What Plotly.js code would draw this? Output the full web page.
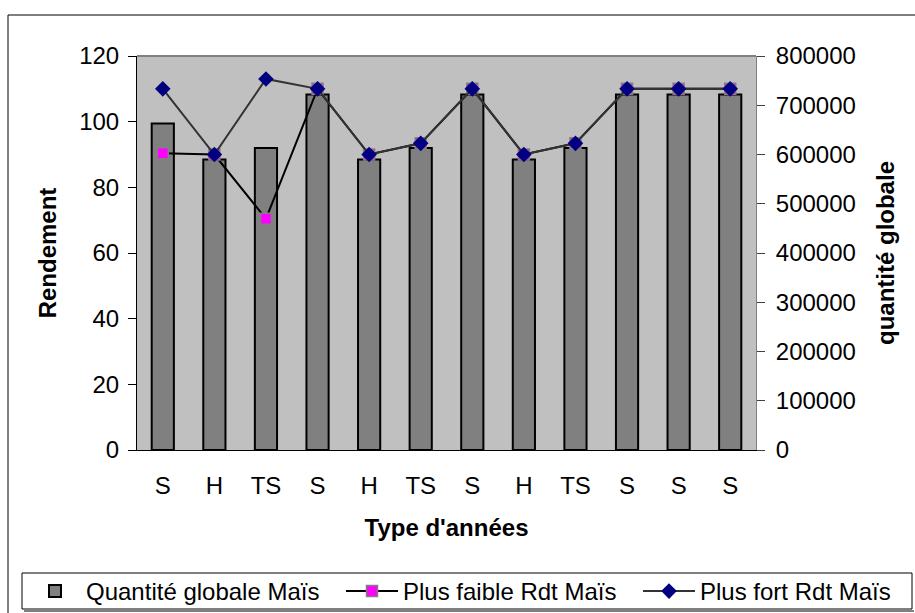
<!DOCTYPE html>
<html>
<head>
<meta charset="utf-8">
<script src="https://cdn.plot.ly/plotly-3.0.1.min.js"></script>
<style>html,body{margin:0;padding:0;background:#fff;}#chart{width:915px;height:613px;}</style>
</head>
<body>
<div id="chart"></div>
<script>
// Data
const typeAnnees = ["S", "H", "TS", "S", "H", "TS", "S", "H", "TS", "S", "S", "S"];
const quantiteGlobale = [663000, 590000, 613000, 722000, 590000, 613000, 722000, 590000, 613000, 722000, 722000, 722000];
const plusFaibleRdt = [90.4, 90, 70.4, 110, 90, 93.4, 110, 90, 93.4, 110, 110, 110];
const plusFortRdt = [110, 90, 113, 110, 90, 93.4, 110, 90, 93.4, 110, 110, 110];

const idx = typeAnnees.map((_, i) => i);
const FONT = "Arial, 'Liberation Sans', sans-serif";

// plot area in pixels (for paper conversions of decorations)
const L = 137, R = 756, T = 56, B = 450, W = 915, H = 613;
const px = x => (x - L) / (R - L);
const py = y => (B - y) / (B - T);

const traces = [
  {
    type: "bar", name: "Quantité globale Maïs", legend: "legend",
    x: idx, y: quantiteGlobale, xaxis: "x", yaxis: "y",
    marker: {color: "#808080", line: {color: "#000000", width: 2}}
  },
  {
    type: "scatter", mode: "lines+markers", name: "Plus faible Rdt Maïs", legend: "legend2",
    x: idx, y: plusFaibleRdt, xaxis: "x", yaxis: "y2",
    line: {color: "#000000", width: 2},
    marker: {symbol: "square", size: 11, color: "#FF00FF", line: {color: "#808080", width: 1.5}}
  },
  {
    type: "scatter", mode: "lines+markers", name: "Plus fort Rdt Maïs", legend: "legend3",
    x: idx, y: plusFortRdt, xaxis: "x", yaxis: "y2",
    line: {color: "#333333", width: 2},
    marker: {symbol: "diamond", size: 12, color: "#000080", line: {width: 0}}
  }
];

function legendAt(xPix) {
  return {
    orientation: "h", xref: "container", yref: "container",
    x: xPix / W, xanchor: "left", y: (H - 569) / H, yanchor: "top",
    bgcolor: "rgba(0,0,0,0)", borderwidth: 0,
    font: {family: FONT, size: 24}, itemwidth: 52
  };
}

const layout = {
  width: W, height: H,
  margin: {l: L, r: W - R, t: T, b: H - B, pad: 0, autoexpand: false},
  paper_bgcolor: "#FFFFFF",
  plot_bgcolor: "#C0C0C0",
  font: {family: FONT, size: 24, color: "#000000"},
  showlegend: true,
  bargap: 0.57,
  xaxis: {
    type: "linear", range: [-0.5, 11.5], automargin: false,
    tickmode: "array", tickvals: idx, ticktext: typeAnnees,
    ticks: "", showgrid: false, zeroline: false,
    showline: true, linecolor: "#000000", linewidth: 1,
    ticklabelstandoff: 14,
    tickfont: {family: FONT, size: 24},
    title: {text: "<b>Type d'années</b>", font: {family: FONT, size: 24}, standoff: 21}
  },
  xaxis2: {
    overlaying: "x", anchor: "y", side: "bottom", type: "linear", range: [-0.5, 11.5],
    tickmode: "linear", tick0: -0.5, dtick: 1, ticks: "outside", ticklen: 8, tickcolor: "#000000",
    showticklabels: false, showgrid: false, zeroline: false, showline: false, automargin: false
  },
  xaxis3: {
    overlaying: "x", anchor: "y", side: "bottom", type: "linear", range: [-0.5, 11.5],
    tickmode: "linear", tick0: -0.5, dtick: 1, ticks: "inside", ticklen: 7, tickcolor: "#000000",
    showticklabels: false, showgrid: false, zeroline: false, showline: false, automargin: false
  },
  yaxis: {
    side: "right", range: [0, 800000], dtick: 100000, tick0: 0, automargin: false,
    ticks: "outside", ticklen: 8, tickcolor: "#404040",
    showgrid: false, zeroline: false, showline: true, linecolor: "#808080", linewidth: 1,
    ticklabelstandoff: 6, tickformat: "d",
    tickfont: {family: FONT, size: 24},
    title: {text: "<b>quantité globale</b>", font: {family: FONT, size: 24}, standoff: 22}
  },
  yaxis2: {
    overlaying: "y", side: "left", anchor: "x", range: [0, 120], dtick: 20, tick0: 0, automargin: false,
    ticks: "outside", ticklen: 8, tickcolor: "#000000",
    showgrid: false, zeroline: false, showline: true, linecolor: "#000000", linewidth: 1,
    ticklabelstandoff: 4,
    tickfont: {family: FONT, size: 24},
    title: {text: "<b>Rendement</b>", font: {family: FONT, size: 24}, standoff: 15}
  },
  yaxis3: {
    overlaying: "y", side: "left", anchor: "x", range: [0, 120], dtick: 20, tick0: 0, automargin: false,
    ticks: "inside", ticklen: 8, tickcolor: "#000000",
    showticklabels: false, showgrid: false, zeroline: false, showline: false
  },
  legend: legendAt(24),
  legend2: legendAt(341),
  legend3: legendAt(638),
  shapes: [
    // outer chart area border (top and left edges visible)
    {type: "line", xref: "paper", yref: "paper", x0: px(8), x1: px(916), y0: py(15), y1: py(15), line: {color: "#000000", width: 1}},
    {type: "line", xref: "paper", yref: "paper", x0: px(8), x1: px(8), y0: py(15), y1: py(616), line: {color: "#000000", width: 1}},
    // plot area top border
    {type: "line", xref: "paper", yref: "paper", x0: 0, x1: 1, y0: 1, y1: 1, line: {color: "#808080", width: 2}},
    // legend box and shadow
    {type: "rect", xref: "paper", yref: "paper", x0: px(22), x1: px(912), y0: py(609), y1: py(573), line: {color: "#000000", width: 1}, fillcolor: "rgba(0,0,0,0)"},
    {type: "line", xref: "paper", yref: "paper", x0: px(24), x1: px(914), y0: py(611), y1: py(611), line: {color: "#808080", width: 2}}
  ]
};

Plotly.newPlot("chart", traces, layout, {staticPlot: true, displayModeBar: false});
</script>
</body>
</html>
